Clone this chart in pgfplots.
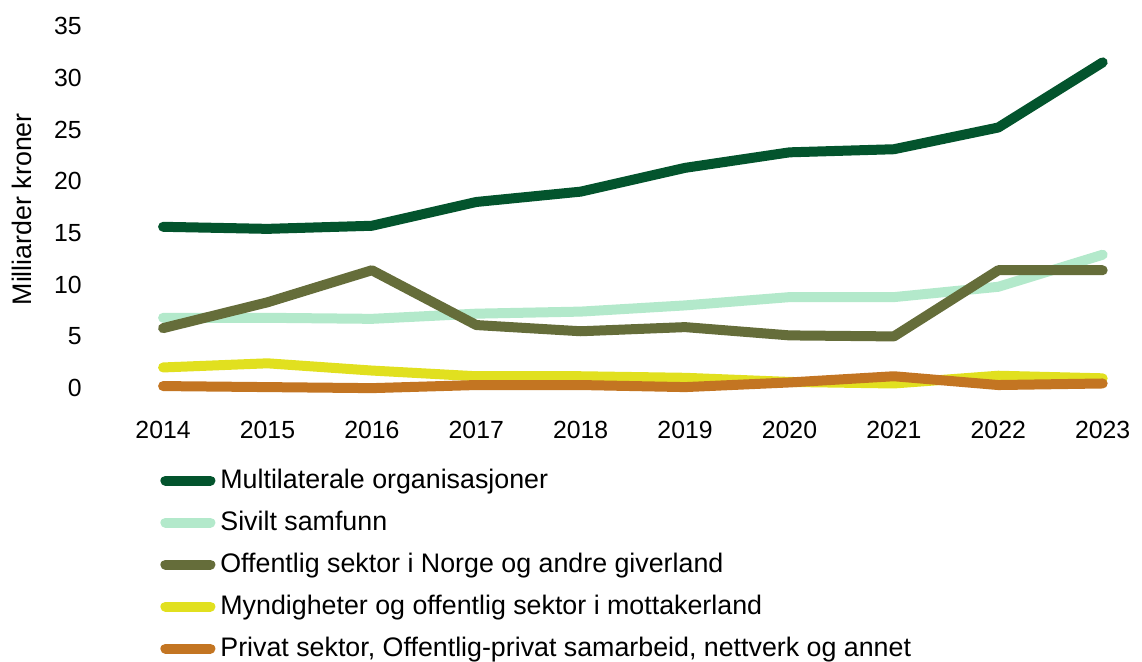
\documentclass[border=0pt]{standalone}
\usepackage{pgfplots}
\pgfplotsset{compat=1.18}
\usepackage{fontspec}
\setmainfont{Liberation Sans}
\definecolor{cMulti}{HTML}{03542D}
\definecolor{cSiv}{HTML}{B3E9CB}
\definecolor{cOff}{HTML}{656D3A}
\definecolor{cMyn}{HTML}{E1E01F}
\definecolor{cPriv}{HTML}{C37522}
\begin{document}
\begin{tikzpicture}
\begin{axis}[
  scale only axis,
  width=522pt, height=196.5pt,
  xmin=2013.3, xmax=2023.3,
  ymin=-2.5, ymax=35.5,
  xtick={2014,2015,2016,2017,2018,2019,2020,2021,2022,2023},
  ytick={0,5,10,15,20,25,30,35},
  axis line style={draw=none},
  tick style={draw=none},
  clip=false,
  /pgf/number format/assume math mode=true,
  /pgf/number format/1000 sep={},
  tick label style={font=\fontsize{12.4pt}{14pt}\selectfont},
  xticklabel style={inner sep=0pt, anchor=north, yshift=-3.5pt},
  yticklabel style={inner sep=0pt, anchor=east, xshift=-4pt},
  ylabel={Milliarder kroner},
  every axis y label/.style={at={(axis description cs:0,0.521)}, rotate=90, anchor=center, yshift=34pt, font=\fontsize{13.4pt}{15pt}\selectfont},
  legend cell align=left,
  legend style={draw=none, fill=none, inner sep=0pt, at={(axis description cs:0,0)}, anchor=north west, xshift=35pt, yshift=-27.7pt,
    font=\fontsize{13.4pt}{15pt}\selectfont,
    nodes={inner sep=0pt, text height=9.6pt, text depth=2.8pt},
    row sep=8.6pt, column sep=2.5pt},
  legend image code/.code={\draw[#1, line cap=round] (0pt,0.8pt) -- (22.5pt,0.8pt);},
  every axis plot/.append style={line width=5pt, line join=round, line cap=round},
]
\addplot[cMulti] coordinates {(2014,15.6)(2015,15.4)(2016,15.7)(2017,18.0)(2018,19.0)(2019,21.3)(2020,22.8)(2021,23.1)(2022,25.2)(2023,31.5)};
\addlegendentry{Multilaterale organisasjoner}
\addplot[cSiv] coordinates {(2014,6.8)(2015,6.8)(2016,6.7)(2017,7.2)(2018,7.4)(2019,8.0)(2020,8.8)(2021,8.8)(2022,9.8)(2023,12.9)};
\addlegendentry{Sivilt samfunn}
\addplot[cOff] coordinates {(2014,5.8)(2015,8.3)(2016,11.4)(2017,6.1)(2018,5.5)(2019,5.9)(2020,5.1)(2021,5.0)(2022,11.4)(2023,11.4)};
\addlegendentry{Offentlig sektor i Norge og andre giverland}
\addplot[cMyn] coordinates {(2014,2.0)(2015,2.4)(2016,1.7)(2017,1.15)(2018,1.15)(2019,1.0)(2020,0.6)(2021,0.45)(2022,1.2)(2023,0.95)};
\addlegendentry{Myndigheter og offentlig sektor i mottakerland}
\addplot[cPriv] coordinates {(2014,0.2)(2015,0.1)(2016,0.0)(2017,0.3)(2018,0.3)(2019,0.1)(2020,0.55)(2021,1.15)(2022,0.3)(2023,0.45)};
\addlegendentry{Privat sektor, Offentlig-privat samarbeid, nettverk og annet}
\coordinate (O) at (rel axis cs:0,0);
\end{axis}
\pgfresetboundingbox
\path[use as bounding box] ([xshift=-45pt,yshift=-124pt]O) rectangle ([xshift=526pt,yshift=207pt]O);
\end{tikzpicture}
\end{document}
